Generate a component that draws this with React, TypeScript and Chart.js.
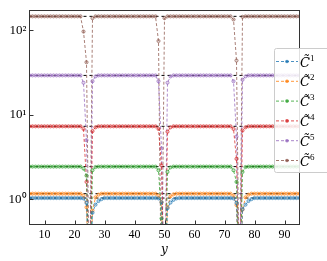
import React, { useEffect, useRef } from "react";
import { Chart, registerables } from "chart.js";

Chart.register(...registerables);

// x positions of the samples
const X = [
  5, 6, 7, 8, 9, 10, 11, 12, 13, 14,
  15, 16, 17, 18, 19, 20, 21, 22, 23, 24,
  25, 26, 27, 28, 29, 30, 31, 32, 33, 34,
  35, 36, 37, 38, 39, 40, 41, 42, 43, 44,
  45, 46, 47, 48, 49, 50, 51, 52, 53, 54,
  55, 56, 57, 58, 59, 60, 61, 62, 63, 64,
  65, 66, 67, 68, 69, 70, 71, 72, 73, 74,
  75, 76, 77, 78, 79, 80, 81, 82, 83, 84,
  85, 86, 87, 88, 89, 90, 91, 92, 93, 94,
  95,
];

const C1 = [
  1.03, 1.03, 1.03, 1.03, 1.03, 1.03, 1.03, 1.03, 1.03, 1.03,
  1.03, 1.03, 1.03, 1.03, 1.03, 1.03, 1.03, 1.03, 1.02, 0.9,
  0.05, 0.69, 0.86, 0.95, 1.0, 1.03, 1.03, 1.03, 1.03, 1.03,
  1.03, 1.03, 1.03, 1.03, 1.03, 1.03, 1.03, 1.03, 1.03, 1.03,
  1.03, 1.03, 1.03, 1.02, 0.92, 0.05, 0.78, 0.91, 0.98, 1.02,
  1.03, 1.03, 1.03, 1.03, 1.03, 1.03, 1.03, 1.03, 1.03, 1.03,
  1.03, 1.03, 1.03, 1.03, 1.03, 1.03, 1.03, 1.03, 1.02, 0.9,
  0.05, 0.76, 0.86, 0.95, 1.0, 1.03, 1.03, 1.03, 1.03, 1.03,
  1.03, 1.03, 1.03, 1.03, 1.03, 1.03, 1.03, 1.03, 1.03, 1.03,
  1.03,
];

const C2 = [
  1.16, 1.16, 1.16, 1.16, 1.16, 1.16, 1.16, 1.16, 1.16, 1.16,
  1.16, 1.16, 1.16, 1.16, 1.16, 1.16, 1.16, 1.16, 1.1, 0.8,
  0.05, 0.73, 1.05, 1.13, 1.16, 1.16, 1.16, 1.16, 1.16, 1.16,
  1.16, 1.16, 1.16, 1.16, 1.16, 1.16, 1.16, 1.16, 1.16, 1.16,
  1.16, 1.16, 1.16, 1.1, 0.92, 0.05, 0.8, 1.08, 1.14, 1.16,
  1.16, 1.16, 1.16, 1.16, 1.16, 1.16, 1.16, 1.16, 1.16, 1.16,
  1.16, 1.16, 1.16, 1.16, 1.16, 1.16, 1.16, 1.16, 1.1, 0.85,
  0.05, 0.75, 1.05, 1.13, 1.16, 1.16, 1.16, 1.16, 1.16, 1.16,
  1.16, 1.16, 1.16, 1.16, 1.16, 1.16, 1.16, 1.16, 1.16, 1.16,
  1.16,
];

const C3 = [
  2.43, 2.43, 2.43, 2.43, 2.43, 2.43, 2.43, 2.43, 2.43, 2.43,
  2.43, 2.43, 2.43, 2.43, 2.43, 2.43, 2.43, 2.43, 2.3, 1.9,
  0.05, 2.2, 2.4, 2.43, 2.43, 2.43, 2.43, 2.43, 2.43, 2.43,
  2.43, 2.43, 2.43, 2.43, 2.43, 2.43, 2.43, 2.43, 2.43, 2.43,
  2.43, 2.43, 2.43, 2.2, 0.59, 0.05, 2.1, 2.38, 2.43, 2.43,
  2.43, 2.43, 2.43, 2.43, 2.43, 2.43, 2.43, 2.43, 2.43, 2.43,
  2.43, 2.43, 2.43, 2.43, 2.43, 2.43, 2.43, 2.43, 2.2, 1.6,
  0.05, 2.1, 2.4, 2.43, 2.43, 2.43, 2.43, 2.43, 2.43, 2.43,
  2.43, 2.43, 2.43, 2.43, 2.43, 2.43, 2.43, 2.43, 2.43, 2.43,
  2.43,
];

const C4 = [
  7.3, 7.3, 7.3, 7.3, 7.3, 7.3, 7.3, 7.3, 7.3, 7.3,
  7.3, 7.3, 7.3, 7.3, 7.3, 7.3, 7.3, 7.3, 6.8, 1.6,
  0.05, 6.4, 7.1, 7.3, 7.3, 7.3, 7.3, 7.3, 7.3, 7.3,
  7.3, 7.3, 7.3, 7.3, 7.3, 7.3, 7.3, 7.3, 7.3, 7.3,
  7.3, 7.3, 7.3, 6.8, 2.5, 0.05, 6.3, 7.1, 7.3, 7.3,
  7.3, 7.3, 7.3, 7.3, 7.3, 7.3, 7.3, 7.3, 7.3, 7.3,
  7.3, 7.3, 7.3, 7.3, 7.3, 7.3, 7.3, 7.3, 6.8, 3.0,
  0.05, 6.5, 7.1, 7.3, 7.3, 7.3, 7.3, 7.3, 7.3, 7.3,
  7.3, 7.3, 7.3, 7.3, 7.3, 7.3, 7.3, 7.3, 7.3, 7.3,
  7.3,
];

const C5 = [
  29.3, 29.3, 29.3, 29.3, 29.3, 29.3, 29.3, 29.3, 29.3, 29.3,
  29.3, 29.3, 29.3, 29.3, 29.3, 29.3, 29.3, 29.3, 24, 5,
  0.05, 25, 28.5, 29.3, 29.3, 29.3, 29.3, 29.3, 29.3, 29.3,
  29.3, 29.3, 29.3, 29.3, 29.3, 29.3, 29.3, 29.3, 29.3, 29.3,
  29.3, 29.3, 29.3, 25, 4, 0.05, 24, 28.5, 29.3, 29.3,
  29.3, 29.3, 29.3, 29.3, 29.3, 29.3, 29.3, 29.3, 29.3, 29.3,
  29.3, 29.3, 29.3, 29.3, 29.3, 29.3, 29.3, 29.3, 25, 5.5,
  0.05, 26, 28.5, 29.3, 29.3, 29.3, 29.3, 29.3, 29.3, 29.3,
  29.3, 29.3, 29.3, 29.3, 29.3, 29.3, 29.3, 29.3, 29.3, 29.3,
  29.3,
];

const C6 = [
  147, 147, 147, 147, 147, 147, 147, 147, 147, 147,
  147, 147, 147, 147, 147, 147, 147, 147, 97, 42,
  0.05, 140, 147, 147, 147, 147, 147, 147, 147, 147,
  147, 147, 147, 147, 147, 147, 147, 147, 147, 147,
  147, 147, 147, 75, 0.05, 140, 147, 147, 147, 147,
  147, 147, 147, 147, 147, 147, 147, 147, 147, 147,
  147, 147, 147, 147, 147, 147, 147, 147, 135, 44,
  0.05, 145, 147, 147, 147, 147, 147, 147, 147, 147,
  147, 147, 147, 147, 147, 147, 147, 147, 147, 147,
  147,
];

// reference (exact) levels drawn as black dashed lines
const LEVELS = [1.03, 1.16, 2.43, 7.3, 29.3, 147];
const SERIES = [C1, C2, C3, C4, C5, C6];
const SERIES_SUP = ["1", "2", "3", "4", "5", "6"];
const COLORS = ["#1f77b4", "#ff7f0e", "#2ca02c", "#d62728", "#9467bd", "#8c564b"];

const X_MIN = 5;
const X_MAX = 95;
const Y_MIN = 0.5;
const Y_MAX = 171;
const X_TICKS = [10, 20, 30, 40, 50, 60, 70, 80, 90];
const Y_TICKS = [1, 10, 100];
const Y_TICK_LABELS = ["10⁰", "10¹", "10²"];
const X_TITLE = "y";

function rgba(hex: string, a: number) {
  const n = parseInt(hex.slice(1), 16);
  return `rgba(${(n >> 16) & 255},${(n >> 8) & 255},${n & 255},${a})`;
}

const overlayPlugin = {
  id: "overlay",
  afterDatasetsDraw(chart: any) {
    const { ctx, chartArea: a, scales } = chart;
    ctx.save();
    const L = Math.floor(a.left) + 0.5;
    const R = Math.floor(a.right) + 0.5;
    const T = Math.floor(a.top) + 0.5;
    const B = Math.floor(a.bottom) + 0.5;
    ctx.strokeStyle = "#333333";
    ctx.lineWidth = 1;
    ctx.setLineDash([]);
    ctx.beginPath();
    for (const t of X_TICKS) {
      const px = Math.round(scales.x.getPixelForValue(t)) + 0.5;
      ctx.moveTo(px, B);
      ctx.lineTo(px, B - 4);
    }
    for (const t of Y_TICKS) {
      const py = Math.round(scales.y.getPixelForValue(t)) + 0.5;
      ctx.moveTo(L, py);
      ctx.lineTo(L + 4, py);
    }
    ctx.stroke();
    ctx.strokeRect(L, T, R - L, B - T);

    // legend
    const lx = 274.5, ly = 48.5, lw = 70, lh = 124;
    ctx.fillStyle = "rgba(255,255,255,0.85)";
    ctx.strokeStyle = "#cccccc";
    ctx.beginPath();
    ctx.roundRect(lx, ly, lw, lh, 2);
    ctx.fill();
    ctx.stroke();
    for (let i = 0; i < SERIES.length; i++) {
      const y = 61.5 + i * 19.8;
      const c = COLORS[i];
      ctx.strokeStyle = rgba(c, 0.8);
      ctx.lineWidth = 1;
      ctx.setLineDash([3, 2]);
      ctx.beginPath();
      ctx.moveTo(276, y);
      ctx.lineTo(298, y);
      ctx.stroke();
      ctx.setLineDash([]);
      ctx.fillStyle = rgba(c, 0.8);
      ctx.beginPath();
      ctx.arc(287, y, 1.8, 0, Math.PI * 2);
      ctx.fill();
      ctx.fillStyle = "#000";
      ctx.textBaseline = "alphabetic";
      ctx.textAlign = "left";
      ctx.font = "italic 13px 'DejaVu Serif', serif";
      ctx.fillText("C\u0303", 300, y + 5);
      ctx.font = "9px 'Liberation Serif', serif";
      ctx.fillText(SERIES_SUP[i], 310, y - 1);
    }
    ctx.restore();
  },
};

export default function App() {
  const ref = useRef<HTMLCanvasElement | null>(null);
  useEffect(() => {
    if (!ref.current) return;
    const colored = SERIES.map((s, i) => ({
      label: "C" + SERIES_SUP[i],
      data: X.map((x, k) => ({ x, y: s[k] })),
      borderColor: rgba(COLORS[i], 0.75),
      borderWidth: 1,
      borderDash: [3, 2],
      pointRadius: 1.6,
      pointBorderWidth: 0.8,
      pointBorderColor: rgba(COLORS[i], 0.8),
      pointBackgroundColor: rgba(COLORS[i], 0.25),
      tension: 0,
    }));
    const refs = LEVELS.map((lv) => ({
      label: "ref",
      data: [
        { x: X_MIN, y: lv },
        { x: X_MAX, y: lv },
      ],
      borderColor: "#000000",
      borderWidth: 1,
      borderDash: [3, 3],
      pointRadius: 0,
      tension: 0,
    }));
    const chart = new Chart(ref.current, {
      type: "line",
      data: { datasets: [...colored, ...refs] as any },
      plugins: [overlayPlugin],
      options: {
        animation: false,
        responsive: false,
        layout: { padding: { top: 1.5, right: 27.5, left: 0, bottom: 0 } },
        plugins: { legend: { display: false }, tooltip: { enabled: false } },
        scales: {
          x: {
            type: "linear",
            min: X_MIN,
            max: X_MAX,
            grid: { display: false, drawTicks: false },
            border: { display: false },
            afterBuildTicks: (s: any) => {
              s.ticks = X_TICKS.map((v) => ({ value: v }));
            },
            afterFit: (s: any) => {
              s.height = 36.5;
            },
            ticks: {
              padding: 3,
              color: "#000",
              maxRotation: 0,
              font: { family: "'Liberation Serif', serif", size: 12 },
            },
            title: {
              display: true,
              text: X_TITLE,
              color: "#000",
              font: { family: "'DejaVu Serif', serif", style: "italic", size: 12 },
              padding: { top: 0, bottom: 4 },
            },
          },
          y: {
            type: "logarithmic",
            min: Y_MIN,
            max: Y_MAX,
            grid: { display: false, drawTicks: false },
            border: { display: false },
            afterBuildTicks: (s: any) => {
              s.ticks = Y_TICKS.map((v) => ({ value: v }));
            },
            afterFit: (s: any) => {
              s.width = 29.5;
            },
            ticks: {
              padding: 3,
              color: "#000",
              font: { family: "'Liberation Serif', serif", size: 13 },
              callback: (v: any) => {
                const i = Y_TICKS.indexOf(Number(v));
                return i >= 0 ? Y_TICK_LABELS[i] : "";
              },
            },
          },
        },
      },
    });
    return () => chart.destroy();
  }, []);
  return (
    <div style={{ position: "absolute", left: 0, top: 0, width: 327, height: 261 }}>
      <canvas ref={ref} width={327} height={261} style={{ display: "block" }} />
    </div>
  );
}
